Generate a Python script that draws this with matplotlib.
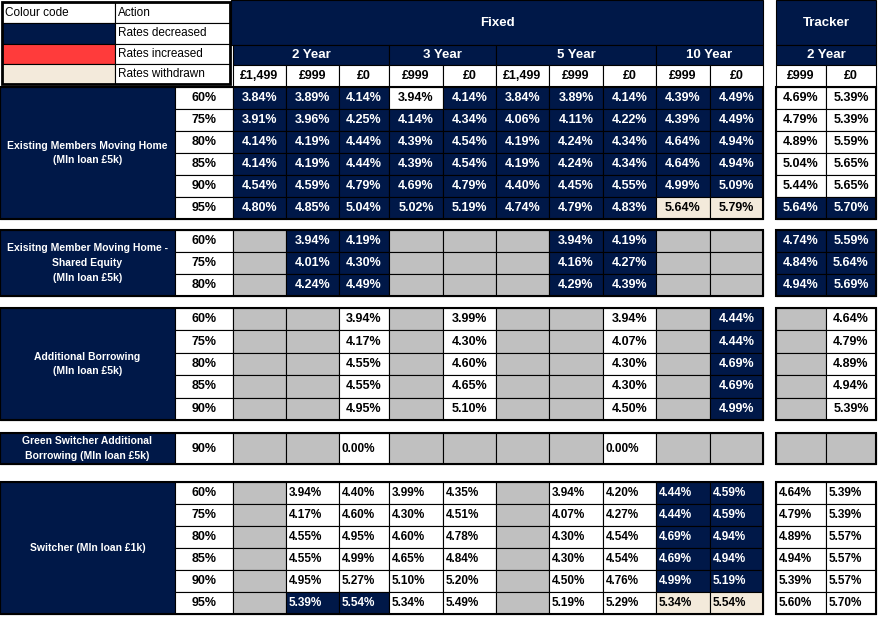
import matplotlib
matplotlib.use("Agg")
import matplotlib.pyplot as plt
from matplotlib.patches import Rectangle

NAVY = "#001848"; GREY = "#c0c0c0"; BEIGE = "#f3eadb"; RED = "#ff3b3b"

terms = ["2 Year", "3 Year", "5 Year", "10 Year"]
term_span = [3, 2, 3, 2]
fees = ["£1,499", "£999", "£0", "£999", "£0", "£1,499", "£999", "£0", "£999", "£0"]
tracker_fees = ["£999", "£0"]

sec_labels = ["Existing Members Moving Home\n(MIn loan £5k)",
              "Exisitng Member Moving Home -\nShared Equity\n(MIn loan £5k)",
              "Additional Borrowing\n(MIn loan £5k)",
              "Green Switcher Additional\nBorrowing (MIn loan £5k)",
              "Switcher (MIn loan £1k)"]
sec_ltv = [["60%", "75%", "80%", "85%", "90%", "95%"],
           ["60%", "75%", "80%"],
           ["60%", "75%", "80%", "85%", "90%"],
           ["90%"],
           ["60%", "75%", "80%", "85%", "90%", "95%"]]
# cell value + status (d=decreased navy, w=unchanged, g=not offered, x=withdrawn)
sec_vals = [
 [["3.84d","3.89d","4.14d","3.94w","4.14d","3.84d","3.89d","4.14d","4.39d","4.49d","4.69w","5.39w"],
  ["3.91d","3.96d","4.25d","4.14d","4.34d","4.06d","4.11d","4.22d","4.39d","4.49d","4.79w","5.39w"],
  ["4.14d","4.19d","4.44d","4.39d","4.54d","4.19d","4.24d","4.34d","4.64d","4.94d","4.89w","5.59w"],
  ["4.14d","4.19d","4.44d","4.39d","4.54d","4.19d","4.24d","4.34d","4.64d","4.94d","5.04w","5.65w"],
  ["4.54d","4.59d","4.79d","4.69d","4.79d","4.40d","4.45d","4.55d","4.99d","5.09d","5.44w","5.65w"],
  ["4.80d","4.85d","5.04d","5.02d","5.19d","4.74d","4.79d","4.83d","5.64x","5.79x","5.64d","5.70d"]],
 [["g","3.94d","4.19d","g","g","g","3.94d","4.19d","g","g","4.74d","5.59d"],
  ["g","4.01d","4.30d","g","g","g","4.16d","4.27d","g","g","4.84d","5.64d"],
  ["g","4.24d","4.49d","g","g","g","4.29d","4.39d","g","g","4.94d","5.69d"]],
 [["g","g","3.94w","g","3.99w","g","g","3.94w","g","4.44d","g","4.64w"],
  ["g","g","4.17w","g","4.30w","g","g","4.07w","g","4.44d","g","4.79w"],
  ["g","g","4.55w","g","4.60w","g","g","4.30w","g","4.69d","g","4.89w"],
  ["g","g","4.55w","g","4.65w","g","g","4.30w","g","4.69d","g","4.94w"],
  ["g","g","4.95w","g","5.10w","g","g","4.50w","g","4.99d","g","5.39w"]],
 [["g","g","0.00w","g","g","g","g","0.00w","g","g","g","g"]],
 [["g","3.94w","4.40w","3.99w","4.35w","g","3.94w","4.20w","4.44d","4.59d","4.64w","5.39w"],
  ["g","4.17w","4.60w","4.30w","4.51w","g","4.07w","4.27w","4.44d","4.59d","4.79w","5.39w"],
  ["g","4.55w","4.95w","4.60w","4.78w","g","4.30w","4.54w","4.69d","4.94d","4.89w","5.57w"],
  ["g","4.55w","4.99w","4.65w","4.84w","g","4.30w","4.54w","4.69d","4.94d","4.94w","5.57w"],
  ["g","4.95w","5.27w","5.10w","5.20w","g","4.50w","4.76w","4.99d","5.19d","5.39w","5.57w"],
  ["g","5.39d","5.54d","5.34w","5.49w","g","5.19w","5.29w","5.34x","5.54x","5.60w","5.70w"]]]

legend_rows = [("Colour code", "Action", "white"), ("", "Rates decreased", NAVY),
               ("", "Rates increased", RED), ("", "Rates withdrawn", BEIGE)]

# layout
col_x = [233, 286, 339, 389, 443, 496, 549, 603, 656, 710, 763]
trk_x = [776, 826, 876]
sec_y = [(87, 22.0), (230, 22.0), (308, 22.4), (433, 31.0), (482, 22.0)]

fig = plt.figure(figsize=(8.79, 6.19), dpi=100)
ax = fig.add_axes([0, 0, 1, 1]); ax.set_xlim(0, 879); ax.set_ylim(619, 0); ax.axis("off")
FONT = ["Liberation Sans", "Arial", "DejaVu Sans"]

def cell(x0, y0, w, h, fc, txt="", tc="black", fs=9.0, lw=0.8, ha="center", bold=True, ls=1.2):
    ax.add_patch(Rectangle((x0, y0), w, h, facecolor=fc, edgecolor="black", lw=lw))
    if txt:
        tx = x0 + w / 2 if ha == "center" else x0 + 3
        ax.text(tx, y0 + h / 2, txt, ha=ha, va="center", color=tc, fontsize=fs,
                fontweight="bold" if bold else "normal", family=FONT, linespacing=ls)

# headers
cell(231, 0, 532, 45, NAVY, "Fixed", "white", 9.5)
cell(776, 0, 100, 45, NAVY, "Tracker", "white", 9.5)
i = 0
for t, s in zip(terms, term_span):
    cell(col_x[i], 45, col_x[i + s] - col_x[i], 20, NAVY, t, "white", 9.5); i += s
cell(776, 45, 100, 20, NAVY, "2 Year", "white", 9.5)
for j, f in enumerate(fees):
    cell(col_x[j], 65, col_x[j + 1] - col_x[j], 22, "white", f, "black", 9)
for j, f in enumerate(tracker_fees):
    cell(trk_x[j], 65, trk_x[j + 1] - trk_x[j], 22, "white", f, "black", 9)
# legend
ly = [2, 23, 44, 64, 84]
for k, (a, b, c) in enumerate(legend_rows):
    cell(2, ly[k], 113, ly[k + 1] - ly[k], c, a, "black", 8.5, ha="left", bold=False)
    cell(115, ly[k], 115, ly[k + 1] - ly[k], "white", b, "black", 8.5, ha="left", bold=False)
ax.add_patch(Rectangle((2, 2), 228, 82, fill=False, edgecolor="black", lw=2))

# sections
for si, (lab, ltvs, rows) in enumerate(zip(sec_labels, sec_ltv, sec_vals)):
    y0, h = sec_y[si]
    cell(0, y0, 175, h * len(ltvs), NAVY, lab, "white", 7.5, ls=1.6)
    for r, (ltv, row) in enumerate(zip(ltvs, rows)):
        y = y0 + r * h
        cell(175, y, 58, h, "white", ltv, "black", 9)
        xs = [(col_x[j], col_x[j + 1]) for j in range(10)] + [(trk_x[j], trk_x[j + 1]) for j in range(2)]
        for (xa, xb), v in zip(xs, row):
            st = v[-1]; num = v[:-1]
            fc = {"d": NAVY, "w": "white", "g": GREY, "x": BEIGE}[st]
            tc = "white" if st == "d" else "black"
            cell(xa, y, xb - xa, h, fc, (num + "%") if num else "", tc,
                 8.5 if si >= 3 else 9, ha="left" if si >= 3 else "center")
    ax.add_patch(Rectangle((0, y0), 763, h * len(ltvs), fill=False, edgecolor="black", lw=1.5))
    ax.add_patch(Rectangle((776, y0), 100, h * len(ltvs), fill=False, edgecolor="black", lw=1.5))

fig.savefig("out.png", dpi=100)
